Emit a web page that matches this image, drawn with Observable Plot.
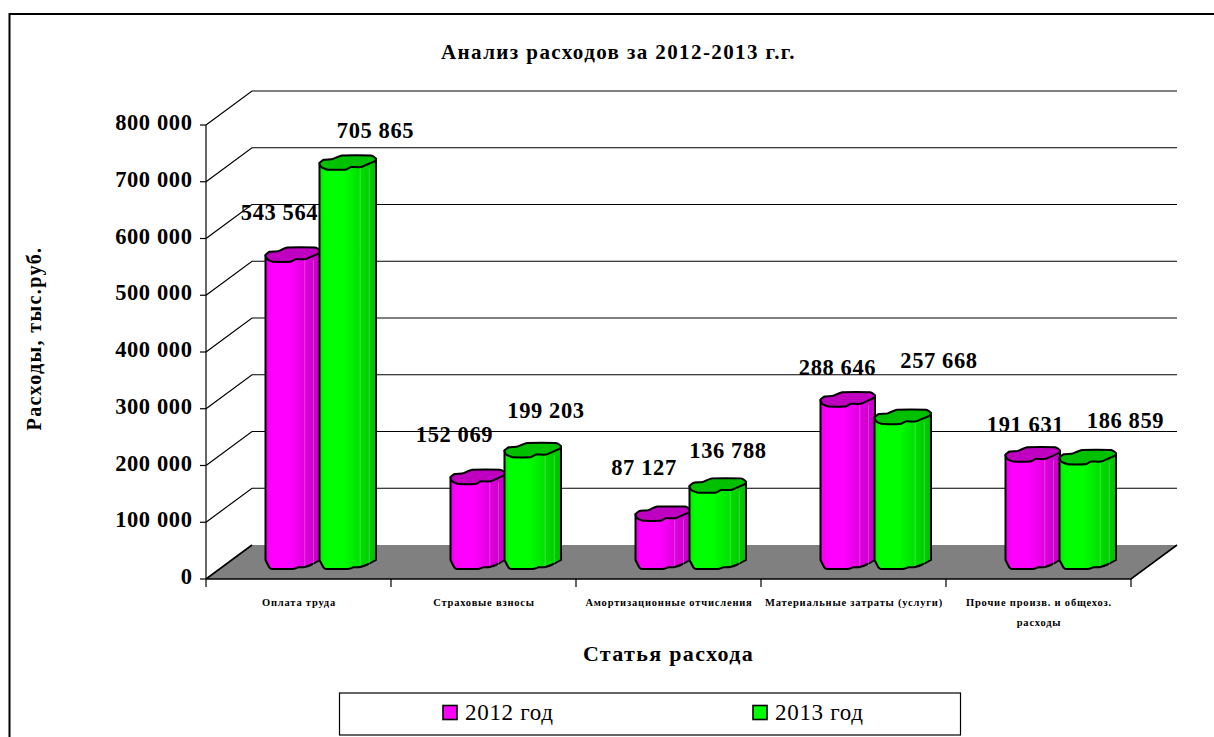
<!DOCTYPE html>
<html lang="ru">
<head>
<meta charset="utf-8">
<style>
html,body{margin:0;padding:0;background:#fff}
svg{display:block;letter-spacing:.6px}
svg g[aria-label="x-axis tick label"]{letter-spacing:.8px}
</style>
<script src="https://cdn.jsdelivr.net/npm/d3@7"></script>
<script src="https://cdn.jsdelivr.net/npm/@observablehq/plot@0.6"></script>
</head>
<body>
<div id="chart"></div>
<script>
const categories = ["Оплата труда","Страховые взносы","Амортизационные отчисления","Материальные затраты (услуги)","Прочие произв. и общехоз.\nрасходы"];
const values2012 = [543564,152069,87127,288646,191631];
const values2013 = [705865,199203,136788,257668,186859];
const yTicks = [0,100000,200000,300000,400000,500000,600000,700000,800000];
const seriesNames = ["2012 год","2013 год"];
const chartTitle = "Анализ расходов за 2012-2013 г.г.";
const xTitle = "Статья расхода";
const yTitle = "Расходы, тыс.руб.";

// layout / styling (not data)
const FONT = "'Liberation Serif', serif";
const MARGIN = {left:206, right:83, top:125, bottom:158};
const DEPTH = {dx:46, dy:-34};
const nudge2012 = [[-19.5,-58.5],[-29.5,-58.7],[-25,-62.6],[-16.5,-48],[-13.5,-46]];
const nudge2013 = [[76.5,-48.4],[62,-56],[59,-51.4],[85,-72.8],[86.5,-53]];
const palette = [
  {face:"#ff00ff", dark:"#c000c0", edge:"#e600e6", id:"gradA"},
  {face:"#00ff00", dark:"#00c000", edge:"#00e600", id:"gradB"}
];
const fmt = d3.formatLocale({decimal:".",thousands:" ",grouping:[3],currency:["",""]}).format(",");

const rows = (vals) => categories.map((category,i)=>({category,value:vals[i],i}));

// Irregular cylinder outline (u across width, offset in px)
const capOutline = [[0,-6.7],[.076,-10],[.235,-10.7],[.4,-14.3],[.91,-14.3],[1,-11],[.97,-8.3],[.735,-2.7],[.56,-2.7],[.46,0],[.147,0],[.03,-2.7]];
const baseOutline = [[1,-9],[.87,-5],[.72,-2],[.6,-1.7],[.5,0],[.12,0],[.07,-1.7],[0,-9]];

function cylinder(p){
  return function(index,scales,values,dims,ctx,next){
    const g = next(index,scales,values,dims,ctx);
    d3.select(g).selectAll("rect").each(function(){
      const r=d3.select(this), x=+r.attr("x"), y=+r.attr("y"), w=+r.attr("width"), h=+r.attr("height");
      const top=y-8.7, bot=y+h-10;
      const pts=(o,b)=>o.map(([u,d])=>[x+u*w,b+d]);
      const bottomCurve=d3.line().curve(d3.curveCardinal.tension(.6))(pts(baseOutline,bot)).replace(/^M/,"L");
      const body=`M${x},${top-6.7}L${x+w},${top-11}${bottomCurve}Z`;
      const cap=d3.line().curve(d3.curveCardinalClosed.tension(.6))(pts(capOutline,top));
      const parent=d3.select(this.parentNode);
      parent.append("path").attr("d",body).attr("fill",`url(#${p.id})`).attr("stroke","#000").attr("stroke-width",2).attr("stroke-linejoin","round");
      [.72,.88].forEach(u=>parent.append("line").attr("x1",x+u*w).attr("x2",x+u*w).attr("y1",top-2).attr("y2",bot-3).attr("stroke","#fff").attr("stroke-opacity",.3).attr("stroke-width",.8));
      parent.append("path").attr("d",cap).attr("fill",p.dark).attr("stroke","#000").attr("stroke-width",2).attr("stroke-linejoin","round");
      r.remove();
    });
    return g;
  };
}

function backdrop(index,{x,y},values,{width,height}){
  const g=d3.create("svg:g").attr("fill","none").attr("stroke","#000").attr("stroke-width",1.2);
  const defs=g.append("defs");
  palette.forEach(p=>{
    const lg=defs.append("linearGradient").attr("id",p.id);
    [[0,p.edge],[.1,p.face],[.42,p.face],[1,p.dark]].forEach(([o,c])=>lg.append("stop").attr("offset",o).attr("stop-color",c));
  });
  // outer frame
  g.append("path").attr("d",`M9.5,${height}V14H${width}`).attr("stroke-width",2);
  const x0=x(categories[0]), bw=x.bandwidth(), x1=x0+bw*categories.length, y0=y(0);
  // floor
  g.append("path").attr("d",`M${x0},${y0}L${x0+DEPTH.dx},${y0+DEPTH.dy}H${x1+DEPTH.dx}L${x1},${y0}Z`).attr("fill","#808080").attr("stroke","none");
  g.append("path").attr("d",`M${x0},${y0}L${x0+DEPTH.dx},${y0+DEPTH.dy}M${x1+DEPTH.dx},${y0+DEPTH.dy}L${x1},${y0}H${x0}`).attr("stroke-width",1.6);
  // walls and y ticks
  yTicks.forEach(t=>{
    const v=y(t);
    g.append("path").attr("d",`M${x0-6},${v}H${x0}`);
    if(t>0) g.append("path").attr("d",`M${x0},${v}L${x0+DEPTH.dx},${v+DEPTH.dy}H${x1+DEPTH.dx}`);
  });
  // axis line and category separators
  g.append("path").attr("d",`M${x0},${y(800000)}V${y0}`);
  categories.forEach((c,i)=>g.append("path").attr("d",`M${x0+bw*i},${y0}v8`));
  g.append("path").attr("d",`M${x1},${y0}v8`);
  return g.node();
}

function legend(){
  const g=d3.create("svg:g");
  g.append("rect").attr("x",339.5).attr("y",693).attr("width",621).attr("height",42).attr("fill","#fff").attr("stroke","#000").attr("stroke-width",1.2);
  [443,753].forEach((lx,i)=>{
    g.append("rect").attr("x",lx).attr("y",705.5).attr("width",14).attr("height",14).attr("fill",palette[i].face).attr("stroke","#000").attr("stroke-width",1.6);
    g.append("text").attr("x",lx+22).attr("y",720).attr("text-anchor","start").attr("font-size",23).attr("letter-spacing",.7).attr("font-family",FONT).attr("fill","#000").text(seriesNames[i]);
  });
  return g.node();
}

const labelMarks=(vals,nudge)=>rows(vals).map((r,i)=>Plot.text([r],{
  x:"category", y:"value", text:d=>fmt(d.value), dx:nudge[i][0], dy:nudge[i][1],
  fontSize:22.5, fontWeight:"bold", fontFamily:FONT, fill:"#000", stroke:"none"
}));
const pageText=(text,px,py,size,spacing,extra={})=>Plot.text([text],{
  frameAnchor:"top-left", dx:px-MARGIN.left, dy:py-MARGIN.top, text:d=>d, fontSize:size, fontWeight:"bold", fontFamily:FONT, fill:"#000", lineAnchor:"middle", textAnchor:"middle", ...extra,
  render(i,s,v,d,c,next){const g=next(i,s,v,d,c); g.style.letterSpacing=spacing+"px"; return g;}
});

const chart = Plot.plot({
  width:1214, height:737,
  marginLeft:MARGIN.left, marginRight:MARGIN.right, marginTop:MARGIN.top, marginBottom:MARGIN.bottom,
  style:{fontFamily:FONT, background:"#fff", color:"#000"},
  x:{type:"band", domain:categories, padding:0, label:null},
  y:{domain:[0,800000], label:null},
  marks:[
    backdrop,
    Plot.axisY({ticks:yTicks, tickSize:0, tickPadding:14, dy:-2.5, tickFormat:fmt, label:null, fontSize:22.5, fontWeight:"bold", fontFamily:FONT}),
    Plot.axisX({tickSize:0, tickPadding:12, label:null, fontSize:10.5, fontWeight:"bold", fontFamily:FONT, lineHeight:1.9, textOverflow:null, lineWidth:Infinity}),
    Plot.barY(rows(values2012),{x:"category", y:"value", fill:palette[0].face, insetLeft:59.5, insetRight:71, render:cylinder(palette[0])}),
    Plot.barY(rows(values2013),{x:"category", y:"value", fill:palette[1].face, insetLeft:113.5, insetRight:15, render:cylinder(palette[1])}),
    labelMarks(values2012,nudge2012),
    labelMarks(values2013,nudge2013),
    pageText(chartTitle,618,52,21,1.4),
    pageText(xTitle,668,653,22,1.35),
    pageText(yTitle,34,338,20,1.4,{rotate:-90}),
    legend
  ]
});
document.getElementById("chart").append(chart);
</script>
</body>
</html>
